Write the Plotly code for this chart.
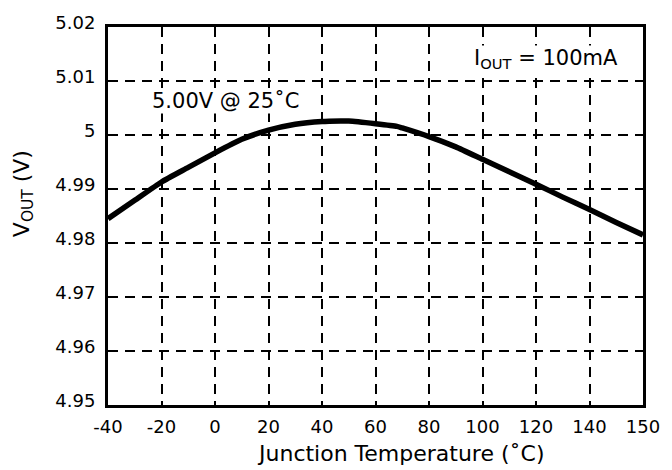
import plotly.graph_objects as go

# Junction temperature (axis position; the right edge is labelled "150")
temp = [-40, -30, -20, -10, 0, 10, 20, 30, 40, 47, 50, 60, 68, 70, 80, 90, 100, 110, 120, 130, 140, 150, 160]
vout = [4.9845, 4.9879, 4.9913, 4.9940, 4.9967, 4.9992, 5.0009, 5.0020, 5.0025, 5.0026, 5.0026, 5.0021, 5.0016,
        5.0013, 4.9997, 4.9978, 4.9955, 4.9932, 4.9909, 4.9885, 4.9862, 4.9838, 4.9815]

x_tickvals = [-40, -20, 0, 20, 40, 60, 80, 100, 120, 140, 160]
x_ticktext = ["-40", "-20", "0", "20", "40", "60", "80", "100", "120", "140", "150"]
y_tickvals = [4.95, 4.96, 4.97, 4.98, 4.99, 5.00, 5.01, 5.02]
y_ticktext = ["4.95", "4.96", "4.97", "4.98", "4.99", "5", "5.01", "5.02"]

FONT = "DejaVu Sans"

fig = go.Figure()
fig.add_trace(go.Scatter(x=temp, y=vout, mode="lines",
                         line=dict(color="black", width=5.5, shape="spline", smoothing=0.5),
                         showlegend=False, hoverinfo="skip"))

axis_common = dict(showline=True, linewidth=3, linecolor="black", mirror=True,
                   showgrid=True, gridcolor="black", gridwidth=2, griddash="10px,7px",
                   zeroline=False, ticks="", tickfont=dict(family=FONT, size=18, color="black"))

fig.update_xaxes(range=[-40, 160], tickmode="array", tickvals=x_tickvals, ticktext=x_ticktext,
                 ticklabelstandoff=3, **axis_common)
fig.update_yaxes(range=[4.95, 5.02], tickmode="array", tickvals=y_tickvals, ticktext=y_ticktext,
                 ticklabelstandoff=6, ticklabelshift=-4, **axis_common)

fig.add_annotation(text="5.00V @ 25˚C", x=-23.8, y=5.0063, xref="x", yref="y",
                   xanchor="left", yanchor="middle", showarrow=False,
                   bgcolor="white", borderpad=0,
                   font=dict(family=FONT, size=21, color="black"))
fig.add_annotation(text="I<sub>OUT</sub> = 100mA", x=96.3, y=5.0141, xref="x", yref="y",
                   xanchor="left", yanchor="middle", showarrow=False,
                   bgcolor="white", borderpad=0,
                   font=dict(family=FONT, size=21, color="black"))
fig.add_annotation(text="Junction Temperature (˚C)", x=0.547, y=-0.129, xref="paper", yref="paper",
                   xanchor="center", yanchor="middle", showarrow=False,
                   font=dict(family=FONT, size=22, color="black"))
fig.add_annotation(text="V<sub>OUT</sub> (V)", x=-0.158, y=0.559, xref="paper", yref="paper",
                   xanchor="center", yanchor="middle", showarrow=False, textangle=-90,
                   font=dict(family=FONT, size=22, color="black"))

fig.update_layout(width=672, height=470, margin=dict(l=108, r=21, t=17, b=65),
                  paper_bgcolor="white", plot_bgcolor="white")

fig.write_html("out.html")
